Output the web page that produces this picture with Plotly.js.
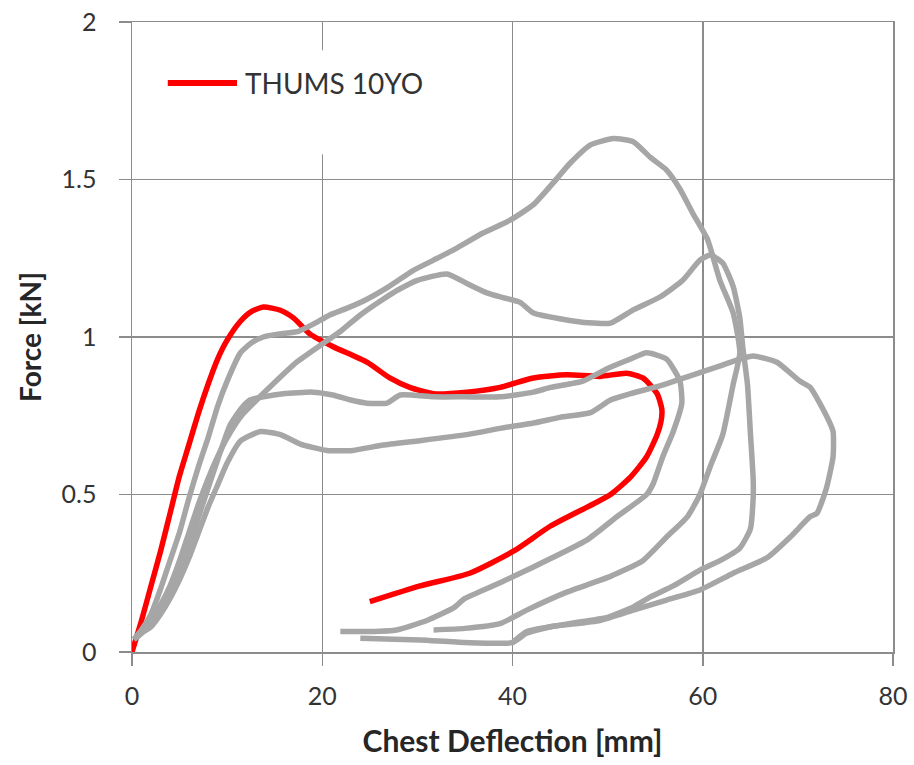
<!DOCTYPE html>
<html>
<head>
<meta charset="utf-8">
<script src="https://cdn.plot.ly/plotly-3.0.1.min.js"></script>
<style>
  html, body { margin: 0; padding: 0; background: #ffffff; }
  #chart { width: 914px; height: 765px; }
</style>
</head>
<body>
<div id="chart"></div>
<script>
// THUMS 10-year-old model response (force vs chest deflection)
const thumsX = [0, 1, 2, 3, 4, 5, 6, 7, 8, 9, 10, 11.4, 12.5, 13.8, 15.6, 17, 18.7, 21.1, 24.7, 27.1, 29.2, 31.7, 35.2, 38.7, 42.2, 45.7, 49.2, 52, 53.7, 55.2, 55.7, 55.6, 55.2, 54.1, 52.4, 50.3, 48.5, 44, 40.1, 35.5, 30.3, 25];
const thumsY = [0, 0.1, 0.21, 0.32, 0.44, 0.56, 0.66, 0.76, 0.85, 0.93, 0.99, 1.05, 1.08, 1.095, 1.085, 1.06, 1.01, 0.97, 0.92, 0.87, 0.84, 0.82, 0.825, 0.84, 0.87, 0.88, 0.875, 0.885, 0.87, 0.82, 0.77, 0.73, 0.69, 0.62, 0.555, 0.5, 0.47, 0.4, 0.32, 0.25, 0.21, 0.16];

// Reference test curves (four gray loading/unloading loops)
const testAX = [0.2, 1, 2, 3, 4, 5, 6, 7, 8, 9, 10, 11.4, 12.5, 13.8, 15.5, 17.4, 19, 20.8, 22.5, 24.7, 27, 29.5, 31.7, 34, 36.9, 39.7, 42.2, 44.3, 46, 48.2, 50.6, 52.7, 54.5, 56.2, 57.6, 59, 60.5, 61.8, 63.2, 63.9, 63.2, 62.1, 60.8, 59.7, 58.4, 56.2, 53.7, 50.3, 45.7, 41.5, 38.7, 35, 31.7];
const testAY = [0.04, 0.07, 0.12, 0.2, 0.29, 0.38, 0.49, 0.59, 0.68, 0.78, 0.86, 0.95, 0.98, 1.0, 1.01, 1.017, 1.04, 1.07, 1.09, 1.12, 1.16, 1.21, 1.244, 1.28, 1.33, 1.37, 1.42, 1.49, 1.55, 1.61, 1.63, 1.62, 1.57, 1.53, 1.47, 1.39, 1.31, 1.18, 1.076, 0.95, 0.85, 0.69, 0.59, 0.5, 0.43, 0.365, 0.29, 0.24, 0.19, 0.133, 0.09, 0.075, 0.07];

const testBX = [0.2, 1, 2, 3, 4, 5, 6, 7, 8, 9, 10, 11.5, 13.1, 14.8, 17.3, 20.1, 22, 24, 26.4, 28, 30, 33.1, 35.2, 37.3, 39, 40.8, 42.2, 45.7, 48, 50.3, 52.7, 55.5, 57.9, 59.7, 60.8, 62.1, 63.2, 63.9, 64.2, 64.7, 65, 65.3, 65.3, 65, 63.9, 61.8, 59.7, 56.9, 54.5, 52.7, 50, 47, 44, 41.5, 40];
const testBY = [0.04, 0.06, 0.1, 0.15, 0.21, 0.29, 0.38, 0.47, 0.55, 0.62, 0.68, 0.75, 0.8, 0.85, 0.92, 0.98, 1.02, 1.07, 1.12, 1.15, 1.18, 1.2, 1.17, 1.14, 1.125, 1.11, 1.076, 1.054, 1.045, 1.044, 1.086, 1.127, 1.18, 1.244, 1.26, 1.235, 1.16, 1.06, 0.97, 0.85, 0.7, 0.55, 0.49, 0.39, 0.33, 0.29, 0.26, 0.21, 0.175, 0.143, 0.11, 0.095, 0.08, 0.065, 0.03];

const testCX = [0.2, 1, 2, 3, 4, 5, 6, 7, 8, 9, 10.3, 11.4, 12.4, 13.8, 15.9, 19, 21.1, 23, 24.7, 26.8, 28.2, 31.7, 35, 38.7, 42.2, 44, 47.4, 50, 52.4, 54.1, 56.2, 57.6, 57.8, 56.9, 55.8, 54.8, 54.1, 51, 47.8, 42.2, 38.7, 35, 33.8, 31, 27.8, 25, 21.9];
const testCY = [0.04, 0.06, 0.09, 0.13, 0.19, 0.26, 0.34, 0.43, 0.52, 0.61, 0.72, 0.77, 0.8, 0.81, 0.82, 0.825, 0.816, 0.8, 0.79, 0.79, 0.816, 0.81, 0.81, 0.81, 0.825, 0.84, 0.86, 0.9, 0.93, 0.95, 0.93, 0.86, 0.79, 0.7, 0.62, 0.535, 0.5, 0.43, 0.355, 0.27, 0.22, 0.17, 0.14, 0.1, 0.07, 0.065, 0.065];

const testDX = [0.2, 1, 2, 3, 4, 5, 6, 7, 8, 9, 10, 11.4, 13.5, 15.6, 17.7, 20.5, 23.2, 26.4, 30, 35.2, 38.7, 42.2, 45, 48.2, 50.3, 52.4, 55.5, 59, 62, 63.9, 65.3, 67.8, 70.2, 71.3, 73, 73.7, 73.7, 73, 72, 71.3, 69.2, 66.8, 63.2, 59.7, 56.2, 52.7, 49.2, 44, 41.5, 40, 35, 30.3, 24];
const testDY = [0.04, 0.06, 0.08, 0.12, 0.17, 0.23, 0.3, 0.38, 0.46, 0.53, 0.6, 0.67, 0.7, 0.69, 0.66, 0.64, 0.64, 0.657, 0.67, 0.69, 0.71, 0.727, 0.745, 0.76, 0.8, 0.82, 0.845, 0.88, 0.91, 0.93, 0.94, 0.92, 0.86, 0.84, 0.75, 0.7, 0.62, 0.52, 0.44, 0.43, 0.365, 0.3, 0.25, 0.197, 0.165, 0.133, 0.1, 0.08, 0.06, 0.03, 0.03, 0.038, 0.044];

const xTicks = [0, 20, 40, 60, 80];
const yTicks = [0, 0.5, 1, 1.5, 2];
const yTickText = ['0', '0.5', '1', '1.5', '2'];
const legendLabel = 'THUMS 10YO';

const gray = '#a6a6a6';
const red = '#ff0000';
const gridColor = '#8c8c8c';
const textFont = 'Lato, "Open Sans", sans-serif';

function grayTrace(x, y) {
  return {
    x: x, y: y, type: 'scatter', mode: 'lines',
    line: { color: gray, width: 5.5, shape: 'spline', smoothing: 0.5 },
    showlegend: false, hoverinfo: 'skip'
  };
}

const traces = [
  {
    x: thumsX, y: thumsY, type: 'scatter', mode: 'lines', name: legendLabel,
    line: { color: red, width: 5.5, shape: 'spline', smoothing: 0.6 },
    showlegend: false
  },
  grayTrace(testAX, testAY),
  grayTrace(testBX, testBY),
  grayTrace(testCX, testCY),
  grayTrace(testDX, testDY)
];

const axisCommon = {
  showgrid: true, gridcolor: gridColor, gridwidth: 1.5,
  showline: true, linecolor: gridColor, linewidth: 1.5, mirror: true,
  zeroline: false, ticks: 'outside', ticklen: 12, tickwidth: 1.5, tickcolor: gridColor,
  tickfont: { family: textFont, size: 25, color: '#333333' },
  fixedrange: true
};

const layout = {
  width: 914, height: 765,
  margin: { l: 132, r: 21, t: 22, b: 113 },
  paper_bgcolor: '#ffffff', plot_bgcolor: '#ffffff',
  showlegend: false,
  xaxis: Object.assign({}, axisCommon, {
    range: [0, 80], tickvals: xTicks, ticktext: xTicks.map(String),
    ticklabelstandoff: 9,
    title: { text: 'Chest Deflection [mm]', standoff: 22,
             font: { family: textFont, size: 30, color: '#262626', weight: 'bold' } }
  }),
  yaxis: Object.assign({}, axisCommon, {
    range: [0, 2], tickvals: yTicks, ticktext: yTickText,
    ticklabelstandoff: 17,
    title: { text: 'Force [kN]', standoff: 12,
             font: { family: textFont, size: 28, color: '#262626', weight: 'bold' } }
  }),
  shapes: [
    // white backing behind the legend key
    { type: 'rect', xref: 'x', yref: 'y', x0: 2.5, x1: 32, y0: 1.58, y1: 1.91,
      fillcolor: '#ffffff', line: { width: 0 }, layer: 'between' },
    // legend key line
    { type: 'line', xref: 'paper', yref: 'paper', x0: 0.047, x1: 0.138, y0: 0.903, y1: 0.903,
      line: { color: red, width: 6 } }
  ],
  annotations: [
    { xref: 'paper', yref: 'paper', x: 0.146, y: 0.903, xanchor: 'left', yanchor: 'middle',
      text: legendLabel, showarrow: false,
      font: { family: textFont, size: 28, color: '#333333' } }
  ]
};

Plotly.newPlot('chart', traces, layout, { displayModeBar: false, staticPlot: true });
</script>
</body>
</html>
